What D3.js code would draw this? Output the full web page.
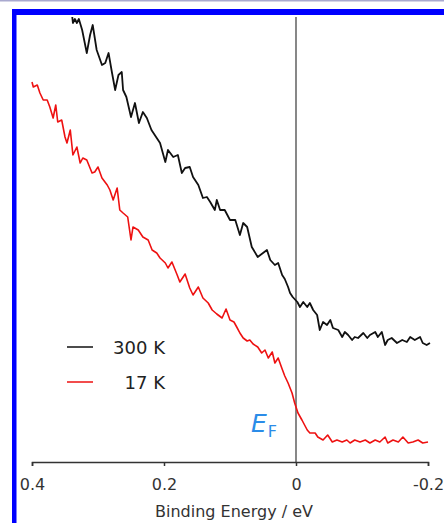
<!DOCTYPE html>
<html>
<head>
<meta charset="utf-8">
<script src="https://cdn.jsdelivr.net/npm/d3@7"></script>
<style>
  body { margin: 0; background: #fff; }
  text { font-family: "DejaVu Sans", Verdana, sans-serif; }
</style>
</head>
<body>
<div id="chart"></div>
<script>
/* photoemission spectra near E_F, 300 K vs 17 K */

// binding energy (eV) and intensity (arb. units) for each temperature
var energy300 = [0.339,0.338,0.335,0.332,0.329,0.324,0.317,0.312,0.308,0.302,0.294,0.289,0.284,0.279,0.274,0.269,0.264,0.262,0.257,0.250,0.244,0.238,0.232,0.226,0.219,0.211,0.206,0.198,0.194,0.186,0.179,0.173,0.168,0.161,0.156,0.148,0.141,0.135,0.130,0.123,0.120,0.115,0.108,0.100,0.092,0.085,0.080,0.074,0.067,0.058,0.050,0.044,0.039,0.032,0.027,0.021,0.017,0.012,0.009,0.005,-0.002,-0.006,-0.011,-0.017,-0.021,-0.026,-0.032,-0.036,-0.041,-0.047,-0.052,-0.056,-0.064,-0.070,-0.074,-0.079,-0.085,-0.089,-0.094,-0.102,-0.108,-0.112,-0.120,-0.124,-0.130,-0.135,-0.139,-0.145,-0.153,-0.161,-0.168,-0.173,-0.180,-0.188,-0.192,-0.198,-0.203];
var counts300 = [89.0,87.8,88.6,87.8,88.6,86.4,81.8,85.4,87.4,82.4,79.4,79.8,81.8,78.0,74.4,77.4,78.0,74.4,73.0,69.0,71.8,67.8,70.0,68.8,66.4,64.8,63.8,60.0,62.4,61.0,61.4,57.8,58.8,59.0,57.0,55.4,52.8,53.0,52.0,50.4,52.4,50.4,50.4,48.4,48.4,45.4,47.8,47.0,43.0,41.0,41.8,42.4,40.4,39.4,39.8,37.4,36.6,35.0,33.8,33.0,32.0,31.0,32.0,31.0,31.8,30.4,29.4,26.4,28.0,27.4,28.4,26.8,26.4,25.0,26.0,25.4,24.4,25.0,24.8,25.8,24.8,25.4,26.0,25.0,26.0,23.4,24.4,24.8,23.8,24.4,24.0,25.0,24.4,25.0,23.8,23.4,23.8];

var energy17 = [0.400,0.398,0.392,0.388,0.383,0.377,0.373,0.368,0.364,0.361,0.355,0.350,0.347,0.342,0.338,0.332,0.327,0.323,0.317,0.309,0.305,0.300,0.294,0.286,0.282,0.277,0.271,0.267,0.262,0.255,0.250,0.247,0.239,0.232,0.224,0.218,0.211,0.206,0.198,0.194,0.188,0.180,0.176,0.168,0.161,0.156,0.148,0.141,0.133,0.127,0.120,0.112,0.106,0.100,0.094,0.089,0.085,0.080,0.074,0.070,0.065,0.058,0.052,0.047,0.042,0.036,0.032,0.027,0.021,0.017,0.012,0.006,0.002,-0.003,-0.009,-0.017,-0.021,-0.029,-0.033,-0.041,-0.048,-0.055,-0.062,-0.070,-0.077,-0.082,-0.089,-0.097,-0.105,-0.112,-0.120,-0.127,-0.135,-0.139,-0.147,-0.155,-0.162,-0.170,-0.177,-0.185,-0.192,-0.200];
var counts17 = [76.0,75.0,75.4,73.8,72.4,72.4,71.0,68.8,71.4,68.0,68.4,65.0,63.8,66.4,61.4,63.0,59.8,60.8,60.4,57.8,58.0,59.0,56.8,55.4,54.4,52.4,54.8,50.4,49.8,49.0,44.4,47.0,46.4,45.0,44.4,42.4,41.8,40.8,39.8,38.8,40.0,37.4,36.0,37.6,34.8,33.4,35.0,32.8,31.8,30.4,29.6,28.8,30.6,28.4,28.0,26.8,25.8,24.8,24.2,24.4,23.6,23.0,21.8,22.4,20.8,22.0,19.8,20.8,18.6,17.2,15.8,13.8,11.8,9.8,8.4,6.4,5.8,5.8,5.0,4.4,5.4,4.0,4.4,4.0,4.4,3.8,4.4,4.0,4.4,3.8,4.4,4.0,5.0,3.8,4.4,4.0,5.0,3.8,4.0,4.4,3.8,4.0];

var xTicks = [0.4, 0.2, 0, -0.2];
var xTickLabels = ["0.4", "0.2", "0", "-0.2"];
var seriesNames = ["300 K", "17 K"];
var seriesColors = ["#111111", "#ee1111"];

var width = 444, height = 523;
var margin = ({ top: 17, right: 16, bottom: 61, left: 32 });

var svg = d3.select("#chart")
  .append("svg")
  .attr("width", width)
  .attr("height", height);

// frame: thin line on top, blue border on top and left
svg.append("rect").attr("x", 0).attr("y", 0).attr("width", width).attr("height", 1.5).attr("fill", "#a9a9cf");
svg.append("rect").attr("x", 12).attr("y", 9).attr("width", width - 12).attr("height", 6).attr("fill", "#0000ff");
svg.append("rect").attr("x", 12).attr("y", 9).attr("width", 4.5).attr("height", height - 9).attr("fill", "#0000ff");

let x = d3.scaleLinear()
  .domain([0.4, -0.2])
  .range([margin.left, width - margin.right]);

let y = d3.scaleLinear()
  .domain([0, 89])
  .range([height - margin.bottom, margin.top]);

svg.append("clipPath").attr("id", "plotclip")
  .append("rect")
  .attr("x", margin.left - 2).attr("y", margin.top)
  .attr("width", width - margin.left).attr("height", height - margin.bottom - margin.top);

// Fermi level marker
svg.append("line")
  .attr("x1", x(0)).attr("x2", x(0))
  .attr("y1", y(89)).attr("y2", y(0))
  .attr("stroke", "#555")
  .attr("stroke-width", 1.4);

var line = d3.line()
  .x(d => x(d[0]))
  .y(d => y(d[1]));

function draw_spectrum(energies, counts, color, w) {
  svg.append("path")
    .datum(d3.zip(energies, counts))
    .attr("clip-path", "url(#plotclip)")
    .attr("fill", "none")
    .attr("stroke", color)
    .attr("stroke-width", w)
    .attr("stroke-linejoin", "round")
    .attr("d", line);
}

draw_spectrum(energy300, counts300, seriesColors[0], 1.8);
draw_spectrum(energy17, counts17, seriesColors[1], 1.6);

// x axis
let xAxis = svg.append("g")
  .attr("transform", `translate(0,${y(0)})`)
  .call(d3.axisBottom(x)
    .tickValues(xTicks)
    .tickFormat((d, i) => xTickLabels[i])
    .tickSizeInner(4)
    .tickSizeOuter(4)
    .tickPadding(13));
xAxis.select(".domain").attr("stroke", "#333").attr("stroke-width", 1.5);
xAxis.selectAll(".tick line").attr("stroke", "#333").attr("stroke-width", 1.5);
xAxis.selectAll("text")
  .attr("fill", "#333")
  .style("font-size", "16px");

svg.append("text")
  .attr("x", 234)
  .attr("y", 517)
  .attr("text-anchor", "middle")
  .attr("fill", "#333")
  .style("font-size", "16px")
  .text("Binding Energy / eV");

// legend
var legendY = [347, 382];
seriesNames.forEach(function(name, i) {
  svg.append("line")
    .attr("x1", 67).attr("x2", 93)
    .attr("y1", legendY[i]).attr("y2", legendY[i])
    .attr("stroke", seriesColors[i])
    .attr("stroke-width", 1.5);
  svg.append("text")
    .attr("x", 165)
    .attr("y", legendY[i] + 7)
    .attr("text-anchor", "end")
    .attr("fill", "#222")
    .style("font-size", "18px")
    .text(name);
});

// E_F label
var ef = svg.append("text")
  .attr("x", 251)
  .attr("y", 432)
  .attr("fill", "#2b8ce8");
ef.append("tspan")
  .style("font-size", "25px")
  .style("font-style", "italic")
  .text("E");
ef.append("tspan")
  .attr("dy", 5)
  .attr("dx", 1)
  .style("font-size", "16px")
  .text("F");
</script>
</body>
</html>
